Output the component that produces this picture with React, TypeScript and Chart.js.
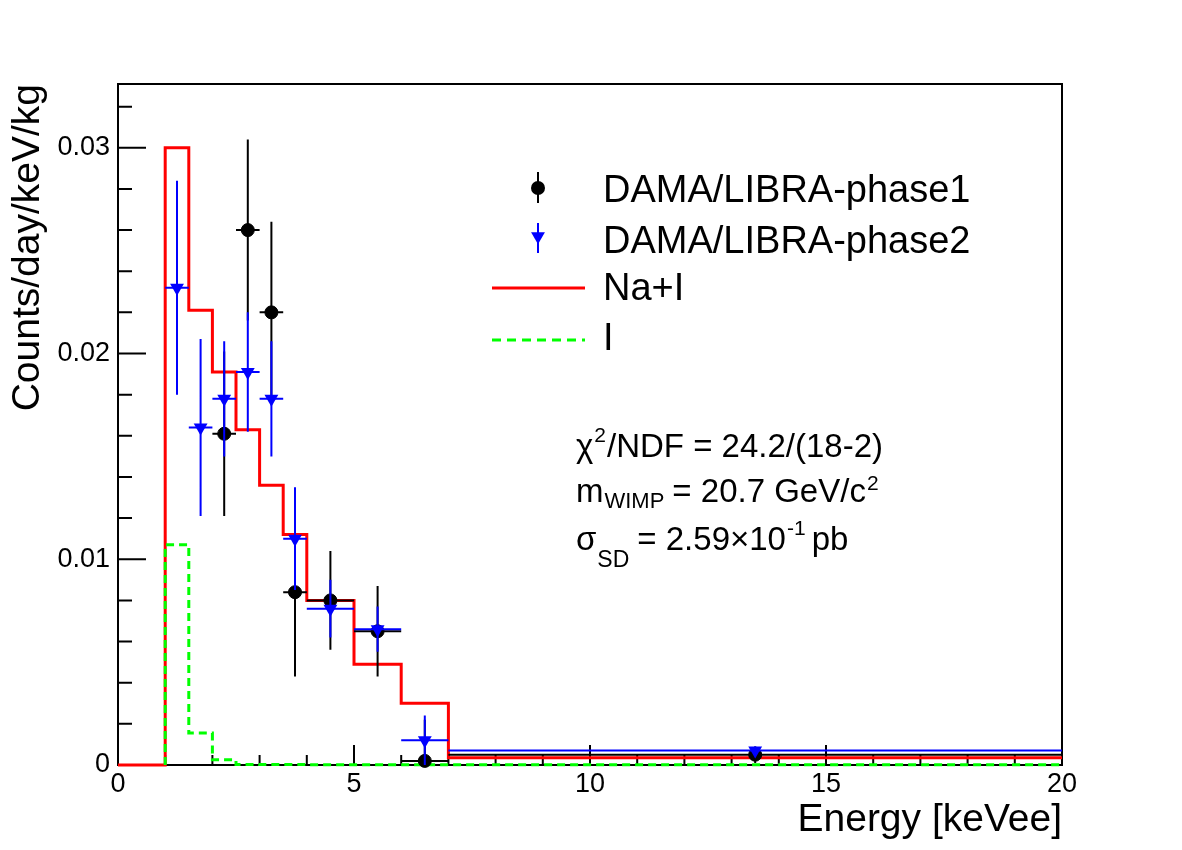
import React, { useEffect, useRef } from 'react';
import { Chart, registerables } from 'chart.js';

Chart.register(...registerables);

const FONT = "'Liberation Sans', Arial, Helvetica, sans-serif";

// Expected modulation amplitude, Na+I (bin edges in keVee, rate per bin)
const NAI_EDGES = [0, 1, 1.5, 2, 2.5, 3, 3.5, 4, 5, 6, 7, 20];
const NAI_RATE = [0, 0.03, 0.0221, 0.0191, 0.0163, 0.0136, 0.0112, 0.008, 0.0049, 0.003, 0.00035];

// Iodine-only contribution
const I_EDGES = [1, 1.5, 2, 2.5, 3, 3.5, 4, 5, 6, 7, 20];
const I_RATE = [0.0107, 0.00155, 0.00025, 0.00003, 0.00002, 0.00002, 0.00001, 0.00001, 0.00001, 0.00001];

// DAMA/LIBRA-phase1 modulation amplitudes
const PHASE1_LO = [2, 2.5, 3, 3.5, 4, 5, 6, 7];
const PHASE1_HI = [2.5, 3, 3.5, 4, 5, 6, 7, 20];
const PHASE1_RATE = [0.0161, 0.026, 0.022, 0.0084, 0.008, 0.0065, 0.0002, 0.0005];
const PHASE1_ERR = [0.004, 0.0044, 0.0044, 0.0041, 0.0024, 0.0022, 0.002, 0.0004];

// DAMA/LIBRA-phase2 modulation amplitudes
const PHASE2_LO = [1, 1.5, 2, 2.5, 3, 3.5, 4, 5, 6, 7];
const PHASE2_HI = [1.5, 2, 2.5, 3, 3.5, 4, 5, 6, 7, 20];
const PHASE2_RATE = [0.0232, 0.0164, 0.0178, 0.0191, 0.0178, 0.011, 0.0076, 0.0066, 0.0012, 0.0007];
const PHASE2_ERR = [0.0052, 0.0043, 0.0028, 0.0029, 0.0028, 0.0025, 0.0014, 0.0011, 0.0012, 0.0002];

// Axis ticks
const X_TICK_VALUES = [0, 5, 10, 15, 20];
const X_TICK_LABELS = ['0', '5', '10', '15', '20'];
const Y_TICK_VALUES = [0, 0.01, 0.02, 0.03];
const Y_TICK_LABELS = ['0', '0.01', '0.02', '0.03'];

// Fit result
const FIT_CHI2 = '24.2';
const FIT_NDF = '(18-2)';
const FIT_MASS = '20.7';
const FIT_SIGMA = '2.59';
const FIT_SIGMA_EXP = '-1';

const LEGEND_LABELS = ['DAMA/LIBRA-phase1', 'DAMA/LIBRA-phase2', 'Na+I', 'I'];

const RED = '#ff0000';
const GREEN = '#00ff00';
const BLUE = '#0000ff';
const BLACK = '#000000';

function stepPoints(edges: number[], values: number[]) {
  const pts = [{ x: edges[0], y: 0 }];
  values.forEach((v, i) => pts.push({ x: edges[i], y: v }));
  pts.push({ x: edges[edges.length - 1], y: values[values.length - 1] });
  return pts;
}

function centerPoints(lo: number[], hi: number[], rate: number[]) {
  return rate.map((v, i) => ({ x: (lo[i] + hi[i]) / 2, y: v }));
}

function labelFor(value: number, values: number[], labels: string[]) {
  for (let i = 0; i < values.length; i++) {
    if (Math.abs(value - values[i]) < 1e-9) return labels[i];
  }
  return '';
}

function isMajor(value: number, step: number) {
  const r = value / step;
  return Math.abs(r - Math.round(r)) < 1e-6;
}

// Inward tick marks and the frame box, drawn beneath the data
const framePlugin = {
  id: 'frame',
  beforeDatasetsDraw(chart: any) {
    const { ctx, chartArea } = chart;
    const { left, right, top, bottom } = chartArea;
    const xs = chart.scales.x;
    const ys = chart.scales.y;
    ctx.save();
    ctx.strokeStyle = BLACK;
    ctx.lineWidth = 2;
    ctx.strokeRect(left, top, right - left, bottom - top);
    ctx.beginPath();
    for (const t of ys.ticks) {
      const py = ys.getPixelForValue(t.value);
      const len = isMajor(t.value, 0.01) ? 28 : 14;
      ctx.moveTo(left, py);
      ctx.lineTo(left + len, py);
    }
    for (const t of xs.ticks) {
      const px = xs.getPixelForValue(t.value);
      const len = isMajor(t.value, 5) ? 20 : 10;
      ctx.moveTo(px, bottom);
      ctx.lineTo(px, bottom - len);
    }
    ctx.stroke();
    ctx.restore();
  },
};

// Horizontal (bin width) and vertical (uncertainty) error bars, drawn just before each marker set
const errorBarPlugin = {
  id: 'errorBars',
  beforeDatasetDraw(chart: any, args: any) {
    const ds = chart.data.datasets[args.index];
    const eb = ds.errorBars;
    if (!eb) return;
    const { ctx } = chart;
    const xs = chart.scales.x;
    const ys = chart.scales.y;
    const yMin = ys.getPixelForValue(0);
    ctx.save();
    ctx.strokeStyle = ds.borderColor;
    ctx.lineWidth = 2;
    ctx.beginPath();
    for (let i = 0; i < eb.rate.length; i++) {
      const v = eb.rate[i];
      const py = ys.getPixelForValue(v);
      const cx = xs.getPixelForValue((eb.lo[i] + eb.hi[i]) / 2);
      ctx.moveTo(xs.getPixelForValue(eb.lo[i]), py);
      ctx.lineTo(xs.getPixelForValue(eb.hi[i]), py);
      const yTop = ys.getPixelForValue(v + eb.err[i]);
      const yBot = Math.min(yMin, ys.getPixelForValue(v - eb.err[i]));
      ctx.moveTo(cx, yTop);
      ctx.lineTo(cx, yBot);
    }
    ctx.stroke();
    ctx.restore();
  },
};

function drawTriangleDown(ctx: CanvasRenderingContext2D, x: number, y: number, r: number) {
  ctx.beginPath();
  ctx.moveTo(x - r * 0.866, y - r * 0.6);
  ctx.lineTo(x + r * 0.866, y - r * 0.6);
  ctx.lineTo(x, y + r * 0.9);
  ctx.closePath();
  ctx.fill();
}

type Piece = { t: string; size: number; dy: number; gap?: number };

function drawPieces(ctx: CanvasRenderingContext2D, x0: number, baseline: number, pieces: Piece[]) {
  let x = x0;
  for (const p of pieces) {
    x += p.gap || 0;
    ctx.font = `${p.size}px ${FONT}`;
    ctx.fillText(p.t, x, baseline + p.dy);
    x += ctx.measureText(p.t).width;
  }
}

// Legend box and fit summary text
const overlayPlugin = {
  id: 'overlay',
  afterDraw(chart: any) {
    const { ctx } = chart;
    ctx.save();
    // legend markers
    const mx = 538;
    ctx.lineWidth = 2;
    ctx.strokeStyle = BLACK;
    ctx.fillStyle = BLACK;
    ctx.beginPath();
    ctx.moveTo(mx, 172);
    ctx.lineTo(mx, 203);
    ctx.stroke();
    ctx.beginPath();
    ctx.arc(mx, 188, 7, 0, Math.PI * 2);
    ctx.fill();

    ctx.strokeStyle = BLUE;
    ctx.fillStyle = BLUE;
    ctx.beginPath();
    ctx.moveTo(mx, 223);
    ctx.lineTo(mx, 253);
    ctx.stroke();
    drawTriangleDown(ctx, mx, 237, 8);

    ctx.lineWidth = 3;
    ctx.strokeStyle = RED;
    ctx.beginPath();
    ctx.moveTo(492, 288);
    ctx.lineTo(585, 288);
    ctx.stroke();

    ctx.strokeStyle = GREEN;
    ctx.setLineDash([9, 6]);
    ctx.beginPath();
    ctx.moveTo(492, 340);
    ctx.lineTo(585, 340);
    ctx.stroke();
    ctx.setLineDash([]);

    // legend labels
    ctx.fillStyle = BLACK;
    ctx.textBaseline = 'alphabetic';
    ctx.textAlign = 'left';
    ctx.font = `38px ${FONT}`;
    const baselines = [202, 253, 300, 350];
    LEGEND_LABELS.forEach((s, i) => ctx.fillText(s, 603, baselines[i]));

    // fit summary
    drawPieces(ctx, 576, 457, [
      { t: 'χ', size: 33, dy: 0 },
      { t: '2', size: 21, dy: -15, gap: 1 },
      { t: `/NDF = ${FIT_CHI2}/${FIT_NDF}`, size: 33, dy: 0, gap: 1 },
    ]);
    drawPieces(ctx, 576, 502, [
      { t: 'm', size: 33, dy: 0 },
      { t: 'WIMP', size: 22, dy: 6, gap: 1 },
      { t: `= ${FIT_MASS} GeV/c`, size: 33, dy: 0, gap: 8 },
      { t: '2', size: 21, dy: -12, gap: 1 },
    ]);
    drawPieces(ctx, 576, 550, [
      { t: 'σ', size: 33, dy: 0 },
      { t: 'SD', size: 23, dy: 17, gap: 1 },
      { t: `= ${FIT_SIGMA}×10`, size: 33, dy: 0, gap: 8 },
      { t: FIT_SIGMA_EXP, size: 21, dy: -15, gap: 1 },
      { t: 'pb', size: 33, dy: 0, gap: 6 },
    ]);
    ctx.restore();
  },
};

export default function App() {
  const canvasRef = useRef<HTMLCanvasElement | null>(null);

  useEffect(() => {
    const canvas = canvasRef.current;
    if (!canvas) return;
    const chart = new Chart(canvas, {
      type: 'scatter',
      data: {
        datasets: [
          {
            type: 'scatter',
            label: LEGEND_LABELS[0],
            data: centerPoints(PHASE1_LO, PHASE1_HI, PHASE1_RATE),
            order: 2,
            pointStyle: 'circle',
            pointRadius: 6.5,
            pointBorderWidth: 1,
            backgroundColor: BLACK,
            borderColor: BLACK,
            clip: false,
            errorBars: { lo: PHASE1_LO, hi: PHASE1_HI, rate: PHASE1_RATE, err: PHASE1_ERR },
          } as any,
          {
            type: 'scatter',
            label: LEGEND_LABELS[1],
            data: centerPoints(PHASE2_LO, PHASE2_HI, PHASE2_RATE),
            order: 1,
            pointStyle: 'triangle',
            pointRotation: 180,
            pointRadius: 8,
            pointBorderWidth: 0,
            backgroundColor: BLUE,
            borderColor: BLUE,
            clip: false,
            errorBars: { lo: PHASE2_LO, hi: PHASE2_HI, rate: PHASE2_RATE, err: PHASE2_ERR },
          } as any,
          {
            type: 'line',
            label: LEGEND_LABELS[2],
            data: stepPoints(NAI_EDGES, NAI_RATE),
            order: 4,
            stepped: true,
            showLine: true,
            fill: false,
            pointRadius: 0,
            borderColor: RED,
            borderWidth: 3,
            clip: false,
          } as any,
          {
            type: 'line',
            label: LEGEND_LABELS[3],
            data: stepPoints(I_EDGES, I_RATE),
            order: 3,
            stepped: true,
            showLine: true,
            fill: false,
            pointRadius: 0,
            borderColor: GREEN,
            borderWidth: 3,
            borderDash: [8, 5],
            clip: false,
          } as any,
        ],
      },
      options: {
        animation: false,
        responsive: false,
        events: [],
        layout: { padding: { left: 0, top: 84, right: 120, bottom: 0 } },
        plugins: {
          legend: { display: false },
          tooltip: { enabled: false },
        },
        scales: {
          x: {
            type: 'linear',
            min: 0,
            max: 20,
            afterFit: (s: any) => {
              s.height = 85;
            },
            border: { display: false },
            grid: { display: false, drawTicks: false },
            ticks: {
              stepSize: 1,
              autoSkip: false,
              maxRotation: 0,
              padding: 3,
              color: BLACK,
              font: { family: FONT, size: 27 },
              callback: (v: any) => labelFor(Number(v), X_TICK_VALUES, X_TICK_LABELS),
            },
            title: {
              display: true,
              text: 'Energy [keVee]',
              align: 'end',
              color: BLACK,
              font: { family: FONT, size: 39 },
              padding: { top: 0, bottom: 6 },
            },
          },
          y: {
            type: 'linear',
            min: 0,
            max: 0.0331,
            afterFit: (s: any) => {
              s.width = 118;
            },
            border: { display: false },
            grid: { display: false, drawTicks: false },
            ticks: {
              stepSize: 0.002,
              includeBounds: false,
              autoSkip: false,
              padding: 8,
              color: BLACK,
              font: { family: FONT, size: 27 },
              callback: (v: any) => labelFor(Number(v), Y_TICK_VALUES, Y_TICK_LABELS),
            },
            title: {
              display: true,
              text: 'Counts/day/keV/kg',
              align: 'end',
              color: BLACK,
              font: { family: FONT, size: 39 },
              padding: { top: 5, bottom: 0 },
            },
          },
        },
      } as any,
      plugins: [framePlugin, errorBarPlugin, overlayPlugin],
    });
    return () => chart.destroy();
  }, []);

  return (
    <div style={{ position: 'fixed', left: 0, top: 0, width: 1182, height: 850, background: '#fff' }}>
      <canvas ref={canvasRef} width={1182} height={850} style={{ display: 'block' }} />
    </div>
  );
}
